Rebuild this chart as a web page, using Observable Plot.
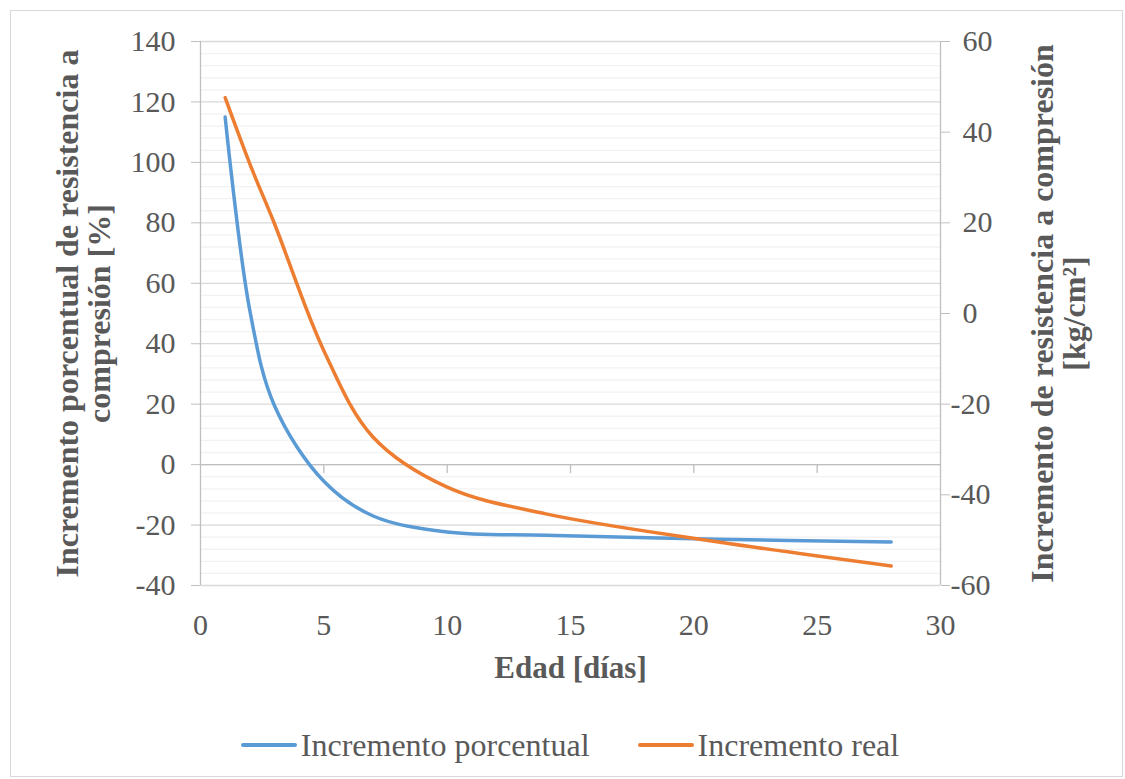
<!DOCTYPE html>
<html>
<head>
<meta charset="utf-8">
<script src="https://cdn.jsdelivr.net/npm/d3@7"></script>
<script src="https://cdn.jsdelivr.net/npm/@observablehq/plot@0.6"></script>
<style>
  html, body { margin: 0; padding: 0; background: #fff; }
  #frame { position: absolute; left: 10px; top: 10px; width: 1113px; height: 767px; border: 1px solid #d9d9d9; box-sizing: border-box; }
  #chart { position: absolute; left: 0; top: 0; }
  #legend { position: absolute; left: 0; top: 725px; width: 1140px; height: 40px; display: flex; justify-content: center; align-items: center;
            font-family: "Liberation Serif", "Times New Roman", serif; font-size: 32px; color: #595959; }
  .item { display: flex; align-items: center; }
  .swatch { display: inline-block; width: 56px; height: 4px; border-radius: 2px; margin-right: 4px; }
  .item + .item { margin-left: 48px; }
</style>
</head>
<body>
<div id="frame"></div>
<div id="chart"></div>
<div id="legend"></div>
<script>
// Age of the specimens (days)
const dias = [1, 2, 3, 5, 7, 10, 14, 21, 28];
// Percentage increase of compressive strength [%] (left axis)
const incrementoPorcentual = [115, 51, 19.5, -5.5, -17, -22.3, -23.4, -24.7, -25.6];
// Real increase of compressive strength [kg/cm²] (right axis)
const incrementoReal = [47.6, 33, 19.8, -8.2, -27.3, -38.3, -44.2, -50.4, -55.7];

// Axis ticks
const xTicks = [0, 5, 10, 15, 20, 25, 30];
const leftTicks = [-40, -20, 0, 20, 40, 60, 80, 100, 120, 140];
const rightTicks = [-60, -40, -20, 0, 20, 40, 60];
const minorTicks = d3.range(-40, 141, 4).filter(v => v % 20 !== 0);

const seriesNames = ["Incremento porcentual", "Incremento real"];
const colors = ["#5B9BD5", "#ED7D31"];

// The secondary axis [-60, 60] shares the frame with the primary [-40, 140]
const toLeft = d3.scaleLinear().domain([-60, 60]).range([-40, 140]);

const rows = dias.map((d, i) => ({dia: d, pct: incrementoPorcentual[i], real: incrementoReal[i]}));

const font = '"Liberation Serif", "Times New Roman", serif';
const grey = "#595959";
const axisGrey = "#bfbfbf";

// Secondary axis: the minus sign hangs to the left of the digit column
const rightAxis = (values, padding) => Plot.axisY({
  anchor: "right", ticks: values.map(toLeft), tickSize: 9, tickPadding: padding, fontSize: 30,
  tickFormat: d => String(Math.round(toLeft.invert(d))), label: null, stroke: axisGrey, fill: grey
});

const plot = Plot.plot({
  width: 1125,
  height: 700,
  marginLeft: 200,
  marginRight: 185,
  marginTop: 41,
  marginBottom: 115,
  style: {fontFamily: font, color: grey, background: "transparent", overflow: "visible"},
  x: {domain: [0, 30]},
  y: {domain: [-40, 140]},
  marks: [
    Plot.ruleY(minorTicks, {stroke: "#f2f2f2", strokeWidth: 1.3}),
    Plot.ruleY(leftTicks, {stroke: "#d9d9d9", strokeWidth: 1.3}),
    Plot.ruleY([0], {stroke: axisGrey, strokeWidth: 1.3}),
    Plot.ruleX([0, 30], {stroke: axisGrey, strokeWidth: 1.3}),
    Plot.ruleX(xTicks.slice(1, -1), {y1: 0, y2: 0, insetBottom: -9, stroke: axisGrey, strokeWidth: 1.3}),
    Plot.axisY({anchor: "left", ticks: leftTicks, tickSize: 9, tickPadding: 16, fontSize: 30,
      tickFormat: d => String(d), label: null, stroke: axisGrey, fill: grey}),
    rightAxis(rightTicks.filter(v => v >= 0), 13),
    rightAxis(rightTicks.filter(v => v < 0), 1),
    Plot.axisX({anchor: "bottom", ticks: xTicks, tickSize: 0, tickPadding: 28, fontSize: 30,
      tickFormat: d => String(d), label: null, fill: grey}),
    Plot.line(rows, {x: "dia", y: "pct", stroke: colors[0], strokeWidth: 3.5, curve: "catmull-rom", strokeLinecap: "round"}),
    Plot.line(rows, {x: "dia", y: d => toLeft(d.real), stroke: colors[1], strokeWidth: 3.5, curve: "catmull-rom", strokeLinecap: "round"}),
    Plot.text(["Incremento porcentual de resistencia a\ncompresión [%]"], {
      frameAnchor: "left", dx: -117, rotate: -90, fontSize: 32, fontWeight: "bold",
      lineHeight: 1.0, fill: grey, textAnchor: "middle", lineAnchor: "middle"}),
    Plot.text(["Incremento de resistencia a compresión\n[kg/cm²]"], {
      frameAnchor: "right", dx: 118, rotate: -90, fontSize: 32, fontWeight: "bold",
      lineHeight: 1.0, fill: grey, textAnchor: "middle", lineAnchor: "middle"}),
    Plot.text(["Edad [días]"], {
      frameAnchor: "bottom", dy: 83, fontSize: 31, fontWeight: "bold", fill: grey,
      textAnchor: "middle", lineAnchor: "middle"})
  ]
});
document.getElementById("chart").append(plot);

// Legend below the chart
const legend = document.getElementById("legend");
seriesNames.forEach((name, i) => {
  const item = document.createElement("span");
  item.className = "item";
  const sw = document.createElement("span");
  sw.className = "swatch";
  sw.style.background = colors[i];
  const label = document.createElement("span");
  label.textContent = name;
  item.append(sw, label);
  legend.append(item);
});
</script>
</body>
</html>
